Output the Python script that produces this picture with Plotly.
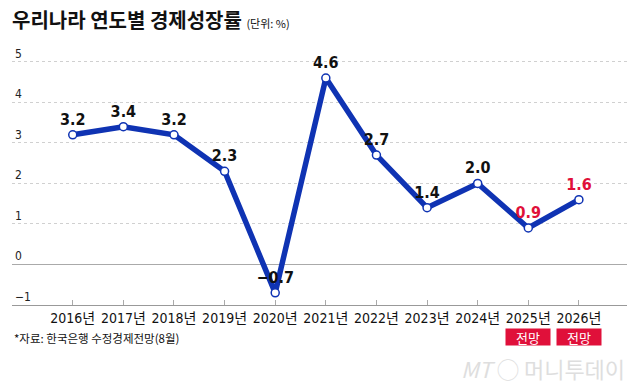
import plotly.graph_objects as go

years = ["2016년", "2017년", "2018년", "2019년", "2020년", "2021년",
         "2022년", "2023년", "2024년", "2025년", "2026년"]
growth = [3.2, 3.4, 3.2, 2.3, -0.7, 4.6, 2.7, 1.4, 2.0, 0.9, 1.6]
labels = ["3.2", "3.4", "3.2", "2.3", "\u22120.7", "4.6", "2.7", "1.4", "2.0", "0.9", "1.6"]
forecast_years = ["2025년", "2026년"]
y_ticks = [-1, 0, 1, 2, 3, 4, 5]

BLUE = "#0f33b3"
RED = "#e0103a"
FONT = "Liberation Sans Narrow, DejaVu Sans Condensed, Liberation Sans, Noto Sans CJK KR, sans-serif"
KFONT = "Noto Sans CJK KR, Liberation Sans, sans-serif"

label_colors = [RED if y in forecast_years else "#111111" for y in years]

fig = go.Figure()
fig.add_trace(go.Scatter(
    x=years, y=growth, mode="lines+markers+text",
    line=dict(color=BLUE, width=5.5),
    marker=dict(size=8, color="white", line=dict(color=BLUE, width=1.5)),
    text=labels, textposition="top center",
    textfont=dict(family=FONT, size=16, color=label_colors, weight="bold"),
    cliponaxis=False, hoverinfo="skip",
))

annotations = []
for fy in forecast_years:
    annotations.append(dict(
        x=fy, xref="x", y=-0.1189, yref="paper", text="전망",
        showarrow=False, bgcolor=RED, width=44, height=16,
        font=dict(family=KFONT, size=13, color="white"),
        xanchor="center", yanchor="middle", borderpad=0,
    ))
annotations.append(dict(
    x=0, xref="paper", y=-0.1245, yref="paper",
    text="*자료: 한국은행 수정경제전망(8월)", showarrow=False,
    xanchor="left", yanchor="middle",
    font=dict(family=KFONT, size=11.5, color="#111111"),
))
annotations.append(dict(
    x=1, xref="paper", y=-0.2377, yref="paper",
    text="<i>MT</i> ◯ 머니투데이", showarrow=False,
    xanchor="right", yanchor="middle",
    font=dict(family=KFONT, size=22, color="#dedede"),
))

fig.update_layout(
    width=640, height=384,
    margin=dict(l=12, r=13, t=40, b=79),
    paper_bgcolor="white", plot_bgcolor="white",
    showlegend=False,
    title=dict(
        text="<b>우리나라 연도별 경제성장률</b> <span style='font-size:11px;font-weight:normal'>(단위: %)</span>",
        x=12/640, xanchor="left", xref="container",
        y=1 - 21/384, yanchor="middle", yref="container",
        font=dict(family=KFONT, size=20, color="#111111"),
    ),
    annotations=annotations,
    xaxis=dict(
        type="category", range=[-1.2, 10.95],
        showgrid=False, ticks="inside", ticklen=5, tickcolor="#aaaaaa",
        showline=True, linecolor="#999999", linewidth=1,
        tickfont=dict(family=FONT, size=14, color="#111111"),
        fixedrange=True,
    ),
    yaxis=dict(
        range=[-1, 5.54], tickvals=y_ticks,
        ticktext=["\u22121", "0", "1", "2", "3", "4", "5"],
        ticklabelposition="inside top",
        tickfont=dict(family=FONT, size=12, color="#222222"),
        showgrid=True, gridcolor="#d0d0d0", griddash="dot", gridwidth=1,
        zeroline=True, zerolinecolor="#aaaaaa", zerolinewidth=1,
        showline=False, ticks="",
        fixedrange=True,
    ),
)

fig.write_html("out.html", config={"displayModeBar": False},
               post_script="document.body.style.margin='0';document.body.style.padding='0';")
